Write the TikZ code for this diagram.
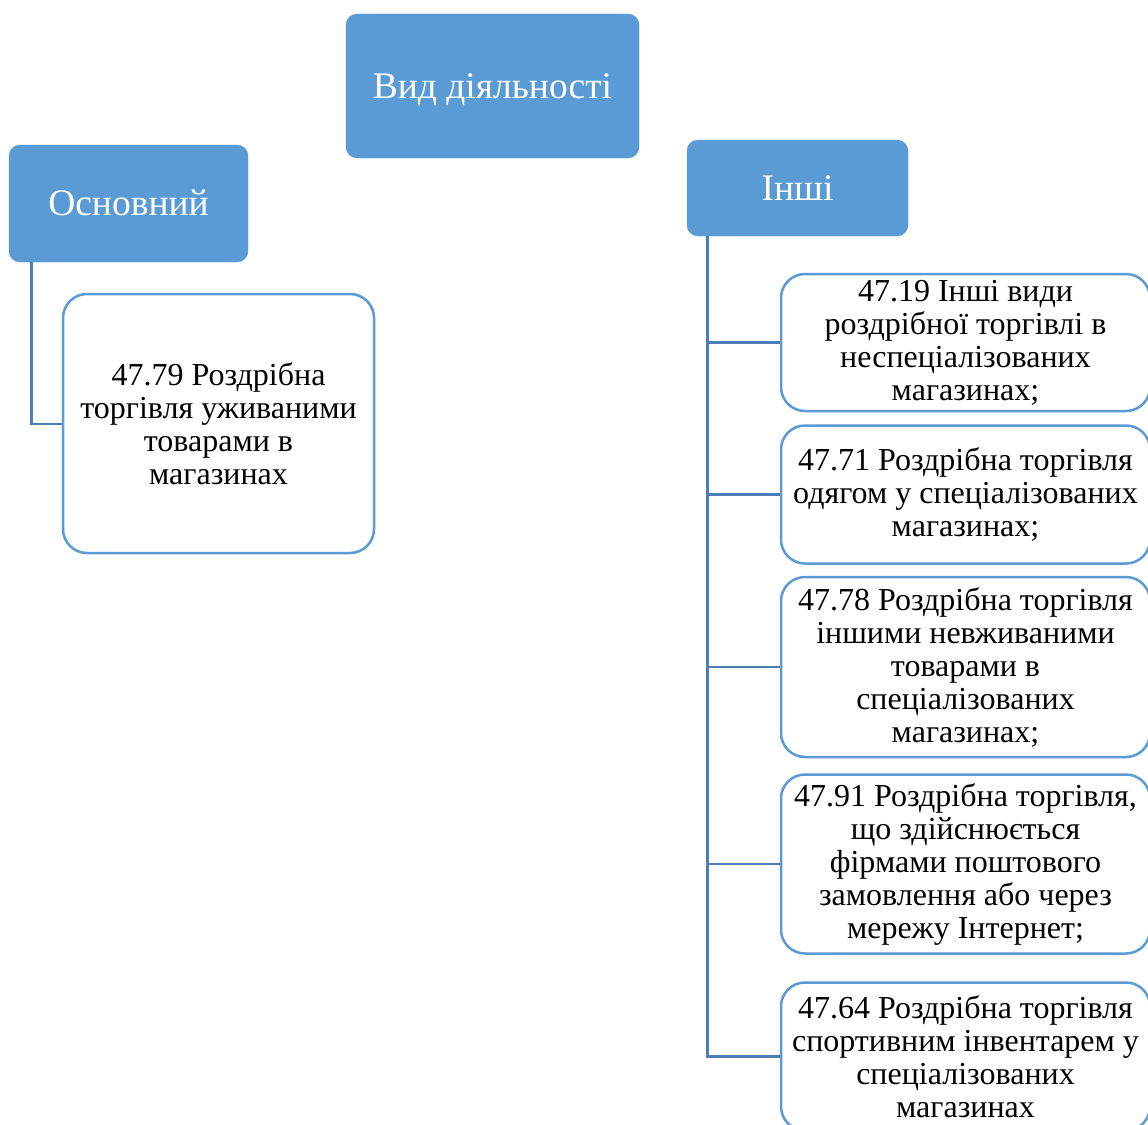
\documentclass[tikz,border=0pt]{standalone}
\usepackage{fontspec}
\setmainfont{Liberation Serif}
\definecolor{hdr}{HTML}{5B9BD5}
\definecolor{conn}{HTML}{4A7EB5}
\begin{document}
\begin{tikzpicture}[x=1pt,y=-1pt,
  hdrbox/.style={draw=hdr,fill=hdr,rounded corners=11pt,inner sep=0pt,text=white,
    text height=32pt,text depth=8pt,font=\fontsize{37.5}{42}\selectfont},
  childbox/.style={draw=hdr,line width=2.5pt,fill=white,rounded corners=24pt,inner sep=0pt,
    align=center,font=\fontsize{32}{33}\selectfont},
  connline/.style={draw=conn,line width=2.8pt}]
\useasboundingbox (0,0) rectangle (1148,1124);
\fill[white] (0,0) rectangle (1148,1124);
% headers
\node[hdrbox,minimum width=293pt,minimum height=144pt] (top) at (492.5,86) {Вид діяльності};
\node[hdrbox,minimum width=239pt,minimum height=117pt] (osn) at (128.5,203.5) {Основний};
\node[hdrbox,minimum width=221pt,minimum height=96pt] (insh) at (797.5,188) {Інші};
% connectors
\draw[connline] ([xshift=23pt]osn.south west) |- (63,424) coordinate (lc);
\coordinate (rtop) at ([xshift=21pt]insh.south west);
% children
\node[childbox,minimum width=311pt,minimum height=259pt] (c1) at (218.5,423.5)
  {47.79 Роздрібна\\торгівля уживаними\\товарами в\\магазинах};
\node[childbox,minimum width=369pt,minimum height=137pt] (r1) at (965.5,342.5)
  {47.19 Інші види\\роздрібної торгівлі в\\неспеціалізованих\\магазинах;};
\node[childbox,minimum width=369pt,minimum height=138pt] (r2) at (965.5,494.5)
  {47.71 Роздрібна торгівля\\одягом у спеціалізованих\\магазинах;};
\node[childbox,minimum width=369pt,minimum height=180pt] (r3) at (965.5,667)
  {47.78 Роздрібна торгівля\\іншими невживаними\\товарами в\\спеціалізованих\\магазинах;};
\node[childbox,minimum width=369pt,minimum height=179pt] (r4) at (965.5,864)
  {47.91 Роздрібна торгівля,\\що здійснюється\\фірмами поштового\\замовлення або через\\мережу Інтернет;};
\node[childbox,minimum width=369pt,minimum height=148pt] (r5) at (965.5,1056.5)
  {47.64 Роздрібна торгівля\\спортивним інвентарем у\\спеціалізованих\\магазинах};
% right connectors
\draw[connline] (rtop) |- (r5.west);
\foreach \n in {r1,r2,r3,r4}{\draw[connline] (rtop |- \n.west) -- (\n.west);}
\end{tikzpicture}
\end{document}
